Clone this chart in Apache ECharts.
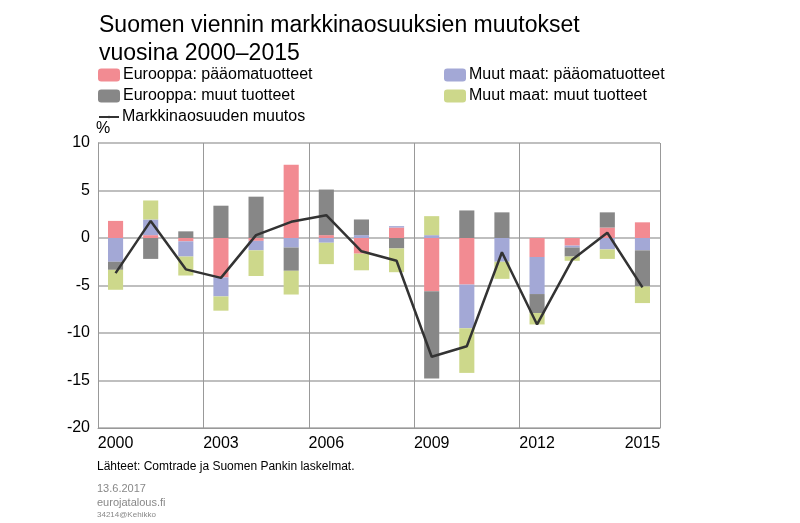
<!DOCTYPE html><html><head><meta charset="utf-8"><script src="https://cdn.jsdelivr.net/npm/echarts@6/dist/echarts.min.js"></script></head><body style="margin:0"><div id="c" style="width:800px;height:523px"></div><script>
const years=['2000','2001','2002','2003','2004','2005','2006','2007','2008','2009','2010','2011','2012','2013','2014','2015'];
const euCap=[1.8,0.3,-0.35,-4.15,-0.3,7.7,0.3,-1.65,1.1,-5.6,-4.9,0,-2.0,-0.8,1.1,1.65];
const euOther=[-0.85,-2.2,0.7,3.4,4.35,-2.45,4.8,1.65,-1.1,-9.2,2.9,2.7,-2.0,-0.95,1.6,-3.8];
const wCap=[-2.5,1.65,-1.6,-2.0,-1.0,-1.0,-0.5,0.3,0.15,0.3,-4.6,-2.5,-3.9,-0.2,-1.2,-1.3];
const wOther=[-2.1,2.0,-2.0,-1.5,-2.7,-2.5,-2.25,-1.75,-2.5,2.0,-4.7,-1.8,-1.2,-0.45,-1.0,-1.75];
const change=[-3.7,1.8,-3.3,-4.2,0.3,1.7,2.4,-1.4,-2.4,-12.5,-11.4,-1.5,-9.1,-2.3,0.55,-5.2];
const names=['Eurooppa: pääomatuotteet','Eurooppa: muut tuotteet','Muut maat: pääomatuotteet','Muut maat: muut tuotteet','Markkinaosuuden muutos'];
const colors=['#f28b92','#878787','#a3a8d6','#cdd88b','#333333'];
const F='Liberation Sans, Arial, sans-serif';
const ch=echarts.init(document.getElementById('c'));
const bar=(n,d,c)=>({name:n,type:'bar',stack:'s',data:d,itemStyle:{color:c},barCategoryGap:'57%'});
const leg=(i,l,t)=>({data:[names[i]],left:l,top:t,itemWidth:i==4?20:22,itemHeight:i==4?3:13,itemGap:0,textStyle:{fontFamily:F,fontSize:16,color:'#000',padding:[0,0,0,-2]},padding:0});
ch.setOption({
title:{text:'Suomen viennin markkinaosuuksien muutokset\nvuosina 2000–2015',left:94,top:7,textStyle:{fontFamily:F,fontSize:23,fontWeight:'normal',color:'#000',lineHeight:28}},
legend:[leg(0,98,67),leg(1,98,88),leg(4,98,109),leg(2,444,67),leg(3,444,88)],
grid:{left:98,right:140,top:143,bottom:95},
xAxis:{type:'category',data:years,axisTick:{show:false},axisLine:{onZero:false,lineStyle:{color:'#999'}},axisLabel:{interval:2,color:'#000',fontSize:16,fontFamily:F,margin:8},splitLine:{show:true,interval:(i)=>i%3==0&&i<15,lineStyle:{color:'#999'}}},
yAxis:{type:'value',min:-20,max:10,interval:5,name:'%',nameGap:6,nameTextStyle:{fontFamily:F,fontSize:16,color:'#000',align:'left',padding:[0,0,0,-2]},axisLine:{show:true,lineStyle:{color:'#999'}},axisLabel:{color:'#000',fontSize:16,fontFamily:F},splitLine:{lineStyle:{color:'#aaa',width:1.5}}},
series:[bar(names[0],euCap,colors[0]),bar(names[2],wCap,colors[2]),bar(names[1],euOther,colors[1]),bar(names[3],wOther,colors[3]),
{name:names[4],type:'line',data:change,symbol:'none',lineStyle:{color:colors[4],width:2.5},itemStyle:{color:colors[4]},z:5}],
graphic:[{type:'text',left:97,top:461,style:{text:'Lähteet: Comtrade ja Suomen Pankin laskelmat.',font:'12px '+F,fill:'#000'}},
{type:'text',left:97,top:483,style:{text:'13.6.2017',font:'11px '+F,fill:'#888'}},
{type:'text',left:97,top:497,style:{text:'eurojatalous.fi',font:'11px '+F,fill:'#888'}},
{type:'text',left:97,top:511,style:{text:'34214@Kehikko',font:'8px '+F,fill:'#888'}}]
});
</script></body></html>
